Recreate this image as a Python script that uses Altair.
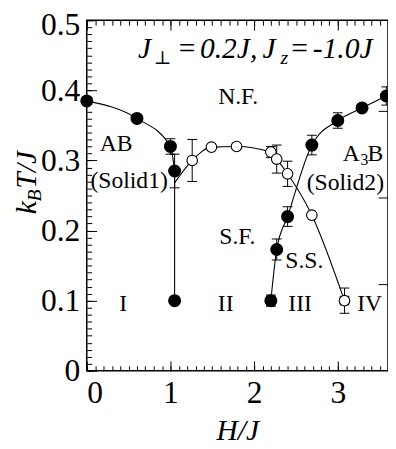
import altair as alt
import pandas as pd

# ---------------- data ----------------
# filled circles
fill_x = [0.0, 0.6, 1.0, 1.05, 1.05, 2.2, 2.27, 2.4, 2.69, 3.0, 3.29, 3.58]
fill_y = [0.385, 0.36, 0.32, 0.285, 0.1, 0.1, 0.173, 0.22, 0.322, 0.357, 0.375, 0.392]
fill_yerr = [0, 0, 0.011, 0.024, 0.004, 0.008, 0.015, 0.014, 0.014, 0.011, 0, 0.013]
fill_xerr = [0, 0, 0, 0, 0, 0.05, 0, 0, 0, 0, 0, 0]

# open circles
open_x = [1.26, 1.49, 1.79, 2.2, 2.27, 2.4, 2.69, 3.08]
open_y = [0.30, 0.319, 0.32, 0.312, 0.302, 0.281, 0.222, 0.1]
open_yerr = [0.03, 0, 0, 0.008, 0.02, 0.018, 0, 0.018]
open_xerr = [0, 0, 0, 0, 0, 0, 0, 0.05]

# phase-boundary curves
curveA_x = [0.0, 0.6, 1.0, 1.05]
curveA_y = [0.385, 0.36, 0.32, 0.285]
vert_x = [1.05, 1.05]
vert_y = [0.285, 0.1]
curveB_x = [1.05, 1.26, 1.49, 1.79, 2.2, 2.27, 2.4, 2.69, 3.08]
curveB_y = [0.268, 0.30, 0.319, 0.32, 0.312, 0.302, 0.281, 0.222, 0.1]
curveC_x = [2.2, 2.27, 2.4, 2.69, 3.0, 3.29, 3.58]
curveC_y = [0.1, 0.173, 0.22, 0.322, 0.357, 0.375, 0.392]

# region labels
lab_text = ["N.F.", "AB", "(Solid1)", "(Solid2)", "S.F.", "S.S.", "I", "II", "III", "IV"]
lab_x = [1.81, 0.35, 0.506, 3.09, 1.80, 2.60, 0.435, 1.66, 2.55, 3.38]
lab_y = [0.390, 0.323, 0.271, 0.268, 0.190, 0.156, 0.095, 0.095, 0.095, 0.095]

# A3B label pieces
a3b_text = ["A", "3", "B"]
a3b_x = [3.06, 3.27, 3.355]
a3b_y = [0.309, 0.309, 0.309]
a3b_size = [24, 16, 24]
a3b_dy = [0, 6, 0]

# parameter text pieces
par_text = ["J", "\u22a5", "=", "0.2J,", "J", "z", "=", "-1.0J"]
par_x = [0.612, 0.80, 1.10, 1.353, 2.10, 2.315, 2.445, 2.70]
par_y = [0.4466] * 8
par_size = [30, 19, 30, 30, 30, 20, 30, 30]
par_dy = [0, 6, 0, 0, 0, 6, 0, 0]
par_style = ["italic", "normal", "normal", "italic", "italic", "italic", "normal", "italic"]
par_font = ["Liberation Serif", "DejaVu Serif", "Liberation Serif", "Liberation Serif",
            "Liberation Serif", "Liberation Serif", "Liberation Serif", "Liberation Serif"]

x_major = [0, 1, 2, 3]
x_minor = [i / 10 for i in range(37)]
y_major = [0, 0.1, 0.2, 0.3, 0.4, 0.5]
y_minor = [i / 100 for i in range(51)]
right_ticks = [0.1236, 0.2472, 0.3708]

# ---------------- chart ----------------
W, H = 306, 356
FONT = "Liberation Serif"
xs = alt.Scale(domain=[0, 3.6], nice=False, zero=False)
ys = alt.Scale(domain=[0, 0.5], nice=False, zero=False)


def X(f="x", axis=None):
    return alt.X(f, type="quantitative", scale=xs, axis=axis)


def Y(f="y", axis=None):
    return alt.Y(f, type="quantitative", scale=ys, axis=axis)


def tick_axis(orient, offset, values, size):
    return alt.Axis(orient=orient, offset=offset, values=values, tickSize=size,
                    labels=False, domain=False, grid=False, ticks=True,
                    tickColor="black", tickWidth=1, title="")


def line(xv, yv, interp):
    return alt.Chart(pd.DataFrame({"x": xv, "y": yv})).mark_line(
        color="black", strokeWidth=1.1, interpolate=interp).encode(x=X(), y=Y())


fill_df = pd.DataFrame({"x": fill_x, "y": fill_y, "ye": fill_yerr, "xe": fill_xerr})
open_df = pd.DataFrame({"x": open_x, "y": open_y, "ye": open_yerr, "xe": open_xerr})
all_df = pd.concat([fill_df, open_df], ignore_index=True)
vdf = all_df[all_df.ye > 0].copy()
vdf["lo"] = vdf.y - vdf.ye
vdf["hi"] = vdf.y + vdf.ye
hdf = all_df[all_df.xe > 0].copy()
hdf["lo"] = hdf.x - hdf.xe
hdf["hi"] = hdf.x + hdf.xe

one = pd.DataFrame({"x": [0.0], "y": [0.0]})

# axis with labels (bottom / left)
label_layer = alt.Chart(one).mark_point(opacity=0).encode(
    x=X(axis=alt.Axis(orient="bottom", values=x_major, format=".0f", tickSize=0,
                      domain=False, grid=False, labelFont=FONT, labelFontSize=32,
                      labelColor="black", labelPadding=7, title="H/J",
                      titleFont=FONT, titleFontSize=30, titleFontStyle="italic",
                      titleFontWeight="normal", titleColor="black", titlePadding=8)),
    y=Y(axis=alt.Axis(orient="left", values=y_major, tickSize=0, domain=False, grid=False,
                      labelExpr="datum.value == 0 ? '0' : format(datum.value, '.1f')",
                      labelOffset={"condition": {"test": "datum.value == 0.5", "value": 4},
                                   "value": 0},
                      labelFont=FONT, labelFontSize=32, labelColor="black",
                      labelPadding=7, title="")),
)

tk_bottom_major = alt.Chart(one).mark_point(opacity=0).encode(
    x=X(axis=tick_axis("top", -H, x_major, 10)),
    y=Y(axis=tick_axis("right", -W, y_major, 10)))
tk_bottom_minor = alt.Chart(one).mark_point(opacity=0).encode(
    x=X(axis=tick_axis("top", -H, x_minor, 5)),
    y=Y(axis=tick_axis("right", -W, y_minor, 5)))
tk_top_major = alt.Chart(one).mark_point(opacity=0).encode(
    x=X(axis=tick_axis("bottom", -H, x_major, 10)),
    y=Y(axis=tick_axis("left", -W, right_ticks, 10)))
tk_top_minor = alt.Chart(one).mark_point(opacity=0).encode(
    x=X(axis=tick_axis("bottom", -H, x_minor, 5)),
    y=Y())

lines = [line(curveA_x, curveA_y, "monotone"), line(vert_x, vert_y, "linear"),
         line(curveB_x, curveB_y, "monotone"), line(curveC_x, curveC_y, "monotone")]

ebar_v = alt.Chart(vdf).mark_rule(color="black", strokeWidth=1).encode(
    x=X(), y=Y("lo"), y2="hi")
cap_lo = alt.Chart(vdf).mark_tick(color="black", orient="horizontal", size=10,
                                  thickness=1, opacity=1).encode(x=X(), y=Y("lo"))
cap_hi = alt.Chart(vdf).mark_tick(color="black", orient="horizontal", size=10,
                                  thickness=1, opacity=1).encode(x=X(), y=Y("hi"))
ebar_h = alt.Chart(hdf).mark_rule(color="black", strokeWidth=1).encode(
    x=X("lo"), x2="hi", y=Y())
hcap_lo = alt.Chart(hdf).mark_tick(color="black", orient="vertical", size=10,
                                   thickness=1, opacity=1).encode(x=X("lo"), y=Y())
hcap_hi = alt.Chart(hdf).mark_tick(color="black", orient="vertical", size=10,
                                   thickness=1, opacity=1).encode(x=X("hi"), y=Y())

pts_fill = alt.Chart(fill_df).mark_point(filled=True, fill="black", stroke="black",
                                         size=125, opacity=1, shape="circle").encode(x=X(), y=Y())
pts_open = alt.Chart(open_df).mark_point(filled=True, fill="white", stroke="black",
                                         strokeWidth=1.1, size=115, opacity=1,
                                         shape="circle").encode(x=X(), y=Y())

labels = alt.Chart(pd.DataFrame({"x": lab_x, "y": lab_y, "t": lab_text})).mark_text(
    font=FONT, fontSize=24, color="black", align="center", baseline="middle").encode(
    x=X(), y=Y(), text="t:N")

a3b_layers = [alt.Chart(pd.DataFrame({"x": [a3b_x[i]], "y": [a3b_y[i]], "t": [a3b_text[i]]}))
              .mark_text(font=FONT, fontSize=a3b_size[i], dy=a3b_dy[i], color="black",
                         align="left", baseline="middle").encode(x=X(), y=Y(), text="t:N")
              for i in range(len(a3b_text))]

par_layers = [alt.Chart(pd.DataFrame({"x": [par_x[i]], "y": [par_y[i]], "t": [par_text[i]]}))
              .mark_text(font=par_font[i], fontSize=par_size[i], dy=par_dy[i],
                         fontStyle=par_style[i], color="black", align="left",
                         baseline="alphabetic")
              .encode(x=X(), y=Y(), text="t:N")
              for i in range(len(par_text))]

# y-axis title k_B T/J drawn as text (needs subscript)
ytitle = [
    alt.Chart(one).mark_text(text="k", font=FONT, fontSize=30, fontStyle="italic", angle=270,
                             align="left", baseline="alphabetic", color="black")
    .encode(x=alt.value(-52), y=alt.value(197)),
    alt.Chart(one).mark_text(text="B", font=FONT, fontSize=20, fontStyle="italic", angle=270,
                             align="left", baseline="alphabetic", color="black")
    .encode(x=alt.value(-46), y=alt.value(184)),
    alt.Chart(one).mark_text(text="T/J", font=FONT, fontSize=30, fontStyle="italic", angle=270,
                             align="left", baseline="alphabetic", color="black")
    .encode(x=alt.value(-52), y=alt.value(171)),
]

chart = alt.layer(
    label_layer, tk_bottom_major, tk_bottom_minor, tk_top_major, tk_top_minor,
    *lines, ebar_v, cap_lo, cap_hi, ebar_h, hcap_lo, hcap_hi,
    pts_open, pts_fill, labels, *a3b_layers, *par_layers, *ytitle
).resolve_axis(x="independent", y="independent").properties(
    width=W, height=H,
    autosize=alt.AutoSizeParams(type="none"),
    padding={"left": 80, "top": 9, "right": 0, "bottom": 76},
    background="white",
).configure_view(stroke="black", strokeWidth=1.5)

chart.save("out.html", embed_options={"renderer": "svg", "actions": False})
